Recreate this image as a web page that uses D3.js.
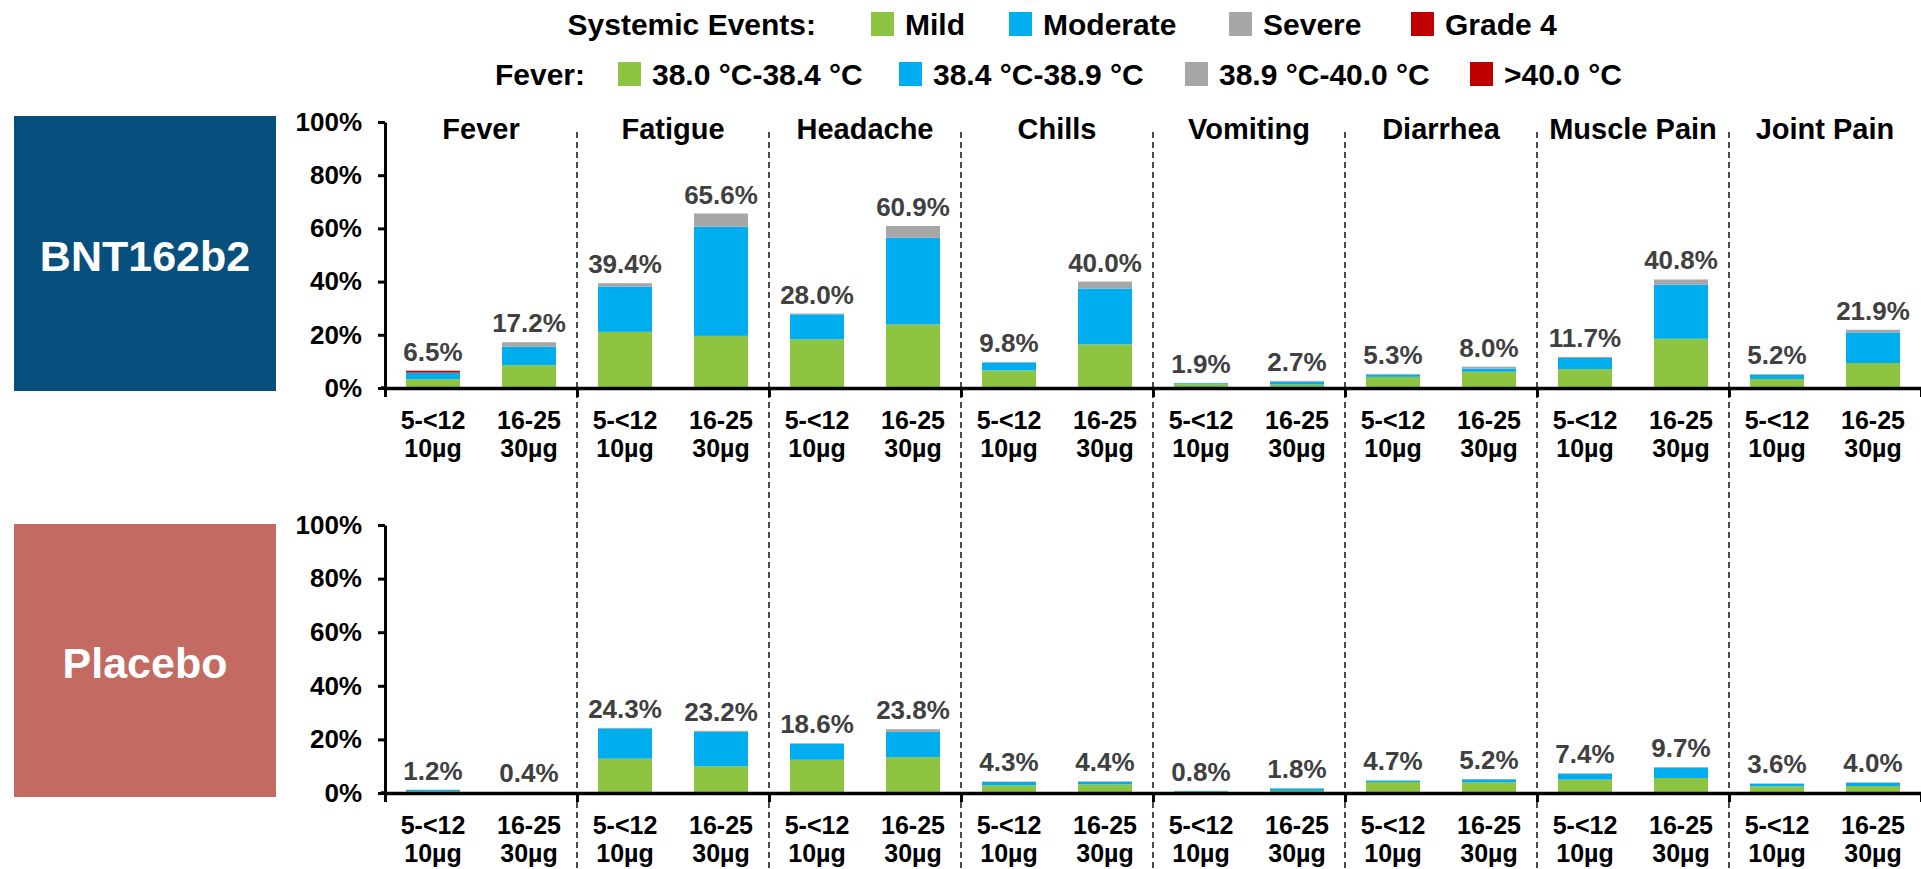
<!DOCTYPE html>
<html>
<head>
<meta charset="utf-8">
<script src="https://cdn.jsdelivr.net/npm/d3@7"></script>
<style>
  html, body { margin: 0; padding: 0; background: #fff; }
  svg { display: block; font-family: "Liberation Sans", Arial, Helvetica, sans-serif; font-weight: bold; }
</style>
</head>
<body>
<svg id="chart" width="1921" height="869"></svg>
<script>
// ---------------- DATA ----------------
const categories = ["Fever", "Fatigue", "Headache", "Chills", "Vomiting", "Diarrhea", "Muscle Pain", "Joint Pain"];
const groups = [["5-<12", "10µg"], ["16-25", "30µg"]];
const arms = ["BNT162b2", "Placebo"];
const yTicks = [0, 20, 40, 60, 80, 100];

const severities = ["Mild", "Moderate", "Severe", "Grade 4"];
const feverGrades = ["38.0 °C-38.4 °C", "38.4 °C-38.9 °C", "38.9 °C-40.0 °C", ">40.0 °C"];

// order: for each category -> [5-<12 10µg, 16-25 30µg]
const bntMild     = [3.3, 8.6, 21.1, 19.6, 18.3, 23.9, 6.6, 16.4, 1.4, 1.3, 4.2, 6.1, 7.1, 18.5, 3.4, 9.4];
const bntModerate = [2.5, 6.9, 17.0, 41.0, 9.4, 32.6, 3.0, 21.0, 0.4, 1.1, 0.9, 1.2, 4.2, 20.4, 1.5, 11.5];
const bntSevere   = [0.0, 1.7, 1.3, 5.0, 0.3, 4.4, 0.2, 2.6, 0.1, 0.3, 0.2, 0.7, 0.4, 1.9, 0.3, 1.0];
const bntGrade4   = [0.7, 0, 0, 0, 0, 0, 0, 0, 0, 0, 0, 0, 0, 0, 0, 0];
const bntTotal    = [6.5, 17.2, 39.4, 65.6, 28.0, 60.9, 9.8, 40.0, 1.9, 2.7, 5.3, 8.0, 11.7, 40.8, 5.2, 21.9];

const plaMild     = [0.6, 0.2, 12.8, 10.0, 12.4, 13.4, 2.9, 3.2, 0.6, 0.8, 4.1, 4.0, 5.0, 5.6, 2.5, 2.6];
const plaModerate = [0.6, 0.2, 11.3, 12.8, 6.0, 9.4, 1.2, 1.0, 0.2, 0.9, 0.5, 1.1, 2.2, 3.8, 0.9, 1.2];
const plaSevere   = [0.0, 0.0, 0.2, 0.4, 0.2, 1.0, 0.2, 0.2, 0.0, 0.1, 0.1, 0.1, 0.2, 0.3, 0.2, 0.2];
const plaGrade4   = [0, 0, 0, 0, 0, 0, 0, 0, 0, 0, 0, 0, 0, 0, 0, 0];
const plaTotal    = [1.2, 0.4, 24.3, 23.2, 18.6, 23.8, 4.3, 4.4, 0.8, 1.8, 4.7, 5.2, 7.4, 9.7, 3.6, 4.0];

// ---------------- STYLE / LAYOUT ----------------
const colors = ["#8DC442", "#00ADEE", "#A6A6A6", "#C00000"];
const armColors = ["#074F7C", "#C36B62"];
const W = 1921, H = 869;
const plotLeft = 385, plotRight = 1921;
const panels = [
  { top: 122, base: 388, box: [14, 116, 262, 275] },
  { top: 525, base: 793, box: [14, 524, 262, 273] }
];
const legendRows = [
  { title: "Systemic Events:", titleEnd: 816, y: 35, sq: [871, 1009, 1229, 1411], labels: severities },
  { title: "Fever:", titleEnd: 585, y: 85, sq: [618, 899, 1185, 1470], labels: feverGrades }
];

const svg = d3.select("#chart");

// ---------------- LEGEND ----------------
legendRows.forEach(row => {
  svg.append("text").attr("x", row.titleEnd).attr("y", row.y)
    .attr("text-anchor", "end").attr("font-size", 30).attr("fill", "#000").text(row.title);
  row.labels.forEach((lab, i) => {
    svg.append("rect").attr("x", row.sq[i]).attr("y", row.y - 23).attr("width", 23).attr("height", 24)
      .attr("fill", colors[i]);
    svg.append("text").attr("x", row.sq[i] + 34).attr("y", row.y)
      .attr("font-size", 30).attr("fill", "#000").text(lab);
  });
});

// ---------------- SCALES ----------------
const xPanel = d3.scaleBand().domain(categories).range([plotLeft, plotRight]);
const xBar = d3.scaleBand().domain(d3.range(categories.length * groups.length))
  .range([plotLeft, plotRight]).paddingInner(0.4375).paddingOuter(0.21875);
const xBound = d3.scaleLinear().domain([0, categories.length]).range([plotLeft, plotRight]);

// ---------------- DIVIDERS ----------------
svg.append("g").selectAll("line").data(d3.range(1, categories.length)).join("line")
  .attr("x1", d => xBound(d)).attr("x2", d => xBound(d))
  .attr("y1", 132).attr("y2", H)
  .attr("stroke", "#000").attr("stroke-width", 1.4).attr("stroke-dasharray", "6,4");

// ---------------- TITLES ----------------
svg.append("g").selectAll("text").data(categories).join("text")
  .attr("x", d => xPanel(d) + xPanel.bandwidth() / 2).attr("y", 139)
  .attr("text-anchor", "middle").attr("font-size", 29).attr("fill", "#000").text(d => d);

// ---------------- PANELS ----------------
const armData = [
  { mild: bntMild, moderate: bntModerate, severe: bntSevere, grade4: bntGrade4, total: bntTotal },
  { mild: plaMild, moderate: plaModerate, severe: plaSevere, grade4: plaGrade4, total: plaTotal }
];
const fmt = d3.format(".1f");

panels.forEach((p, ai) => {
  const g = svg.append("g");
  // arm box
  g.append("rect").attr("x", p.box[0]).attr("y", p.box[1]).attr("width", p.box[2]).attr("height", p.box[3])
    .attr("fill", armColors[ai]);
  g.append("text").attr("x", p.box[0] + p.box[2] / 2).attr("y", p.box[1] + p.box[3] / 2 + 17)
    .attr("text-anchor", "middle").attr("font-size", 43).attr("fill", "#fff").text(arms[ai]);

  const y = d3.scaleLinear().domain([0, 100]).range([p.base, p.top]);
  const d = armData[ai];
  const rows = d3.range(d.total.length).map(i => ({
    i, Mild: d.mild[i], Moderate: d.moderate[i], Severe: d.severe[i], "Grade 4": d.grade4[i], total: d.total[i]
  }));
  const stack = d3.stack().keys(severities)(rows);

  g.append("g").selectAll("g").data(stack).join("g")
    .attr("fill", (s, k) => colors[k])
    .selectAll("rect").data(s => s).join("rect")
    .attr("x", v => xBar(v.data.i)).attr("width", xBar.bandwidth())
    .attr("y", v => y(v[1])).attr("height", v => Math.max(0, y(v[0]) - y(v[1])));

  // value labels
  g.append("g").selectAll("text").data(rows).join("text")
    .attr("x", r => xBar(r.i) + xBar.bandwidth() / 2)
    .attr("y", r => y(r.total) - 10)
    .attr("text-anchor", "middle").attr("font-size", 26).attr("fill", "#404040")
    .text(r => fmt(r.total) + "%");

  // y axis
  const ya = g.append("g").attr("transform", `translate(${plotLeft},0)`)
    .call(d3.axisLeft(y).tickValues(yTicks).tickFormat(t => t + "%").tickSize(7).tickSizeOuter(0).tickPadding(16));
  ya.select(".domain").attr("stroke", "#000").attr("stroke-width", 3);
  ya.selectAll(".tick line").attr("stroke", "#000").attr("stroke-width", 3);
  ya.selectAll(".tick text").attr("font-size", 26).attr("font-family", "Liberation Sans, Arial, sans-serif")
    .attr("font-weight", "bold").attr("fill", "#000");

  // x axis (baseline with boundary ticks)
  const xa = g.append("g").attr("transform", `translate(0,${p.base})`)
    .call(d3.axisBottom(xBound).tickValues(d3.range(0, categories.length + 1)).tickSize(9).tickSizeOuter(0).tickFormat(""));
  xa.select(".domain").attr("stroke", "#000").attr("stroke-width", 3.5);
  xa.selectAll(".tick line").attr("stroke", "#000").attr("stroke-width", 3);
  g.append("line").attr("x1", plotLeft - 4).attr("x2", plotLeft).attr("y1", p.base).attr("y2", p.base)
    .attr("stroke", "#000").attr("stroke-width", 3.5);

  // group labels
  const gl = g.append("g").selectAll("text").data(rows).join("text")
    .attr("text-anchor", "middle").attr("font-size", 25).attr("fill", "#000");
  gl.append("tspan").attr("x", r => xBar(r.i) + xBar.bandwidth() / 2).attr("y", p.base + 41)
    .text(r => groups[r.i % 2][0]);
  gl.append("tspan").attr("x", r => xBar(r.i) + xBar.bandwidth() / 2).attr("y", p.base + 69)
    .text(r => groups[r.i % 2][1]);
});
</script>
</body>
</html>
